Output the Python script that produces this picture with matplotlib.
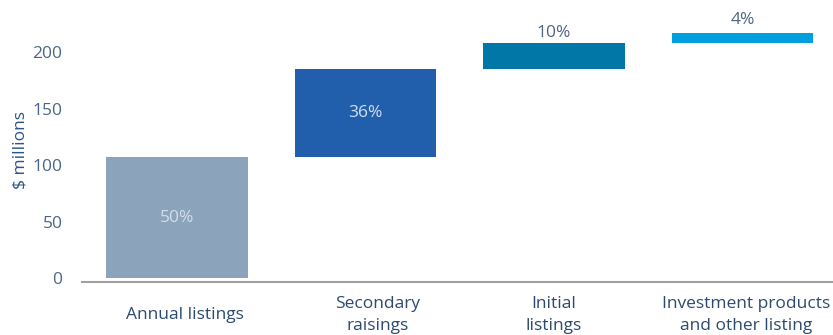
import matplotlib
matplotlib.use("Agg")
import matplotlib.pyplot as plt
import matplotlib.transforms as mtransforms
import numpy as np

categories = ["Annual listings", "Secondary\nraisings", "Initial\nlistings", "Investment products\nand other listing"]
values = [107, 78, 23, 9]
pct_labels = ["50%", "36%", "10%", "4%"]
yticks = [0, 50, 100, 150, 200]
colors = ["#8BA3BB", "#215FAC", "#0177A7", "#00A0DF"]

plt.rcParams['font.family'] = ['Open Sans', 'DejaVu Sans']

fig = plt.figure(figsize=(8.33, 3.35), dpi=100)
ax = fig.add_axes([82/833, (335-282)/335, 1 - 82/833, (282-15)/335])

vals = np.array(values, dtype=float)
bottoms = np.concatenate([[0], np.cumsum(vals)[:-1]])
x = np.arange(len(categories))
bars = ax.bar(x, vals, bottom=bottoms, width=0.753, color=colors)

ylow = -3.5
yhigh = ylow + (282-15) / 1.13
ax.set_ylim(ylow, yhigh)
ax.set_xlim(-0.504, 3.48)

for i, (b, v, lab) in enumerate(zip(bottoms, vals, pct_labels)):
    if i < 2:
        ax.text(i, b + v / 2, lab, ha='center', va='center', fontsize=12.5,
                color='#D3DEEA')
    else:
        off = 2 if i == 2 else 4.5
        ax.text(i, b + v + off, lab, ha='center', va='bottom', fontsize=12.5,
                color='#4F6584')

ax.set_yticks(yticks)
ax.set_yticklabels([str(t) for t in yticks], fontsize=12.5, color='#4A6688')
ax.tick_params(axis='y', length=0, pad=14)
ax.set_xticks(x)
ax.set_xticklabels([])
ax.tick_params(axis='x', length=0)

label_shift = [0.042, 0.064, 0.0, 0.02]
trans = mtransforms.blended_transform_factory(ax.transData, fig.transFigure)
for i, cat in enumerate(categories):
    ax.text(i + label_shift[i], 1 - 315/335, cat, transform=trans, ha='center', va='center',
            fontsize=12.5, color='#2C4A70', linespacing=1.5, clip_on=False)

for s in ['top', 'right', 'left']:
    ax.spines[s].set_visible(False)
ax.spines['bottom'].set_color('#A0A0A0')
ax.spines['bottom'].set_linewidth(1.5)

fig.text(20/833, 1 - 150/335, "$ millions", rotation=90, ha='center', va='center',
         fontsize=12.5, color='#2C5585')

fig.savefig("out.png", dpi=100)
